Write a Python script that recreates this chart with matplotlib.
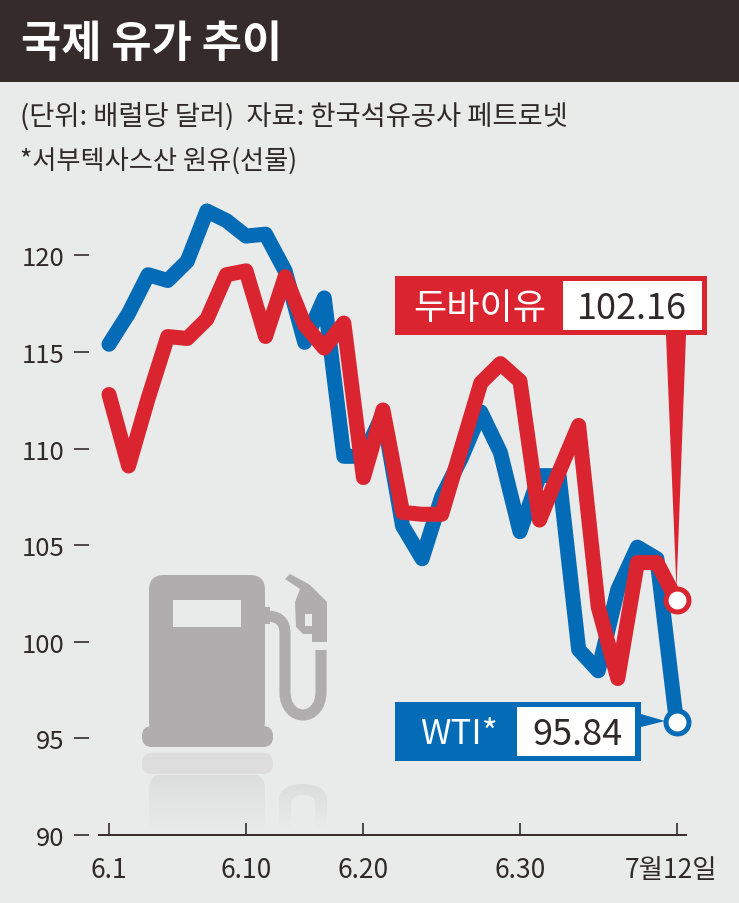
import numpy as np
import matplotlib
matplotlib.use('Agg')
import matplotlib.pyplot as plt
from matplotlib.patches import Rectangle, Polygon, FancyBboxPatch, PathPatch
from matplotlib.path import Path
from matplotlib.transforms import ScaledTranslation

plt.rcParams['font.family'] = ['Noto Sans CJK KR', 'DejaVu Sans']

# values, one per trading day
wti = [115.4, 117.0, 119.0, 118.7, 119.7, 122.3, 121.8, 121.0, 121.1, 119.2,
       115.5, 117.8, 109.6, 109.6, 111.8, 106.0, 104.3, 107.5, 109.5, 111.9,
       109.8, 105.7, 108.6, 108.6, 99.6, 98.5, 102.7, 104.9, 104.3, 95.84]
dubai = [112.8, 109.1, 112.6, 115.8, 115.7, 116.7, 119.0, 119.2, 115.8, 118.9,
         116.4, 115.2, 116.5, 108.5, 112.0, 106.7, 106.6, 106.6, 110.0, 113.4,
         114.4, 113.5, 106.3, 108.8, 111.2, 101.8, 98.1, 104.1, 104.1, 102.16]
y_ticks = [90, 95, 100, 105, 110, 115, 120]
x_ticks = [0, 7, 13, 21, 29]
x_labels = ['6.1', '6.10', '6.20', '6.30', '7월12일']

W, H = 739, 904
BG = '#e9ebea'
RED = '#da2530'
BLUE = '#046bb6'
DARK = '#342b2a'
TXT = '#2f2a29'
GRAY = '#afadae'

fig = plt.figure(figsize=(W/100, H/100), dpi=100, facecolor=BG)


def px_axes(z):
    a = fig.add_axes([0, 0, 1, 1], zorder=z)
    a.set_xlim(0, W)
    a.set_ylim(H, 0)
    a.axis('off')
    return a


bg = px_axes(0)
top = px_axes(2)

# header
bg.add_patch(Rectangle((0, 0), W, 83, color=DARK, lw=0))
bg.text(21, 44, '국제 유가 추이', color='white', fontsize=31.5, fontweight='bold', va='center')
bg.text(20, 117, '(단위: 배럴당 달러)  자료: 한국석유공사 페트로넷', color=TXT, fontsize=19.7, va='center')
bg.text(20, 161, '*서부텍사스산 원유(선물)', color=TXT, fontsize=18.9, va='center')

# pump icon
bg.add_patch(FancyBboxPatch((164, 591), 86, 131, boxstyle='round,pad=15', color=GRAY, lw=0))
bg.add_patch(FancyBboxPatch((152, 737), 111, 1, boxstyle='round,pad=10', color=GRAY, lw=0))
bg.add_patch(Rectangle((173, 601), 68, 27, color=BG, lw=0))
bg.add_patch(Rectangle((264, 608), 6, 17, color=GRAY, lw=0))
hose = Path([(266, 617), (278, 617), (285, 622), (285, 634), (285, 693), (285, 708), (294, 716),
             (303, 716), (312, 716), (321, 708), (321, 693), (321, 651)],
            [1, 4, 4, 4, 2, 4, 4, 4, 4, 4, 4, 2])
bg.add_patch(PathPatch(hose, fc='none', ec=GRAY, lw=8, capstyle='butt'))
bg.add_patch(Polygon([(285, 580), (290, 575), (303, 582), (310, 586), (327, 603), (327, 643),
                      (312, 643), (312, 635), (303, 635), (296, 628), (295, 603), (300, 590)],
                     color=GRAY, lw=0))
bg.add_patch(Rectangle((305, 615), 7, 12, color=BG, lw=0))

# faded reflection of the pump
bg.add_patch(FancyBboxPatch((152, 764), 111, 1, boxstyle='round,pad=10', color='#dcdddc', lw=0))
fade = np.zeros((64, 2, 4))
fade[:, :, :3] = matplotlib.colors.to_rgb('#d4d5d4')
fade[:, :, 3] = np.linspace(0.6, 0, 64)[:, None]
body = FancyBboxPatch((164, 790), 86, 80, boxstyle='round,pad=15', fc='none', lw=0)
bg.add_patch(body)
im = bg.imshow(fade, extent=(149, 265, 832, 776), aspect='auto', zorder=1)
im.set_clip_path(body)
im2 = bg.imshow(fade, extent=(279, 327, 830, 784), aspect='auto', zorder=1)
ring = PathPatch(Path([(279, 835), (279, 800), (279, 790), (290, 785), (303, 785), (316, 785), (327, 790), (327, 800),
                       (327, 835), (315, 835), (315, 805), (315, 798), (310, 796), (303, 796), (296, 796), (291, 798),
                       (291, 805), (291, 835), (279, 835)],
                      [1, 2, 4, 4, 4, 4, 4, 4, 2, 2, 2, 4, 4, 4, 4, 4, 4, 2, 79]),
                 fc='none', lw=0)
bg.add_patch(ring)
im2.set_clip_path(ring)
bg.set_xlim(0, W)
bg.set_ylim(H, 0)

# data axes, placed so that the scale falls on the picture's ticks
x0, x1 = 99, 686
y_top, y_bot = 190, 836
ax = fig.add_axes([x0/W, 1-y_bot/H, (x1-x0)/W, (y_bot-y_top)/H], zorder=1)
ax.patch.set_alpha(0)
per_day = (676.5-109)/29
per_unit = 19.32
ax.set_xlim((x0-109)/per_day, (x1-109)/per_day)
ax.set_ylim(90, 90+(y_bot-y_top)/per_unit)
days = np.arange(len(wti))
ax.plot(days, wti, color=BLUE, lw=10.8, solid_joinstyle='round', solid_capstyle='round')
ax.plot(days, dubai, color=RED, lw=10.8, solid_joinstyle='round', solid_capstyle='round')
for s in ['top', 'right', 'left']:
    ax.spines[s].set_visible(False)
ax.spines['bottom'].set_linewidth(1.4)
ax.spines['bottom'].set_color(DARK)
ax.set_xticks(x_ticks)
ax.set_xticklabels(x_labels)
ax.tick_params(axis='x', direction='in', length=9, width=1.2, color=DARK, pad=15,
               labelsize=19, labelcolor=TXT)
ax.set_yticks(y_ticks)
ax.tick_params(axis='y', direction='out', length=11, width=1.2, color=DARK, pad=7,
               labelsize=18.5, labelcolor=TXT)
# y ticks sit a little left of the axis start
shift = ScaledTranslation(-10/100, 0, fig.dpi_scale_trans)
for t in ax.yaxis.get_major_ticks():
    t.tick1line.set_transform(t.tick1line.get_transform() + shift)
    t.label1.set_transform(t.label1.get_transform() + shift)
last = ax.xaxis.get_major_ticks()[-1].label1
last.set_transform(last.get_transform() + ScaledTranslation(-5/100, 0, fig.dpi_scale_trans))

# end callouts
top.add_patch(Polygon([(666, 336), (686, 336), (676.5, 590)], color=RED, lw=0))
top.add_patch(Polygon([(641, 715), (641, 728), (665, 722)], color=BLUE, lw=0))
top.add_patch(Rectangle((395, 277), 312, 59, color=RED, lw=0))
top.add_patch(Rectangle((563, 282), 139, 49, color='white', lw=0))
top.add_patch(Rectangle((395, 703), 246, 59, color=BLUE, lw=0))
top.add_patch(Rectangle((517, 708), 118, 49, color='white', lw=0))
top.text(480, 309, '두바이유', color='white', fontsize=26, va='center', ha='center', fontweight='medium')
top.text(632, 309, '102.16', color=TXT, fontsize=26, va='center', ha='center')
top.text(459, 735, 'WTI*', color='white', fontsize=25, va='center', ha='center')
top.text(578, 735, '95.84', color=TXT, fontsize=26, va='center', ha='center')
ax.plot(days[-1], dubai[-1], 'o', ms=16.5, mfc='white', mec=RED, mew=3.6, zorder=5, clip_on=False)
ax.plot(days[-1], wti[-1], 'o', ms=16.5, mfc='white', mec=BLUE, mew=3.6, zorder=5, clip_on=False)

fig.savefig('out.png', dpi=100, facecolor=BG)
